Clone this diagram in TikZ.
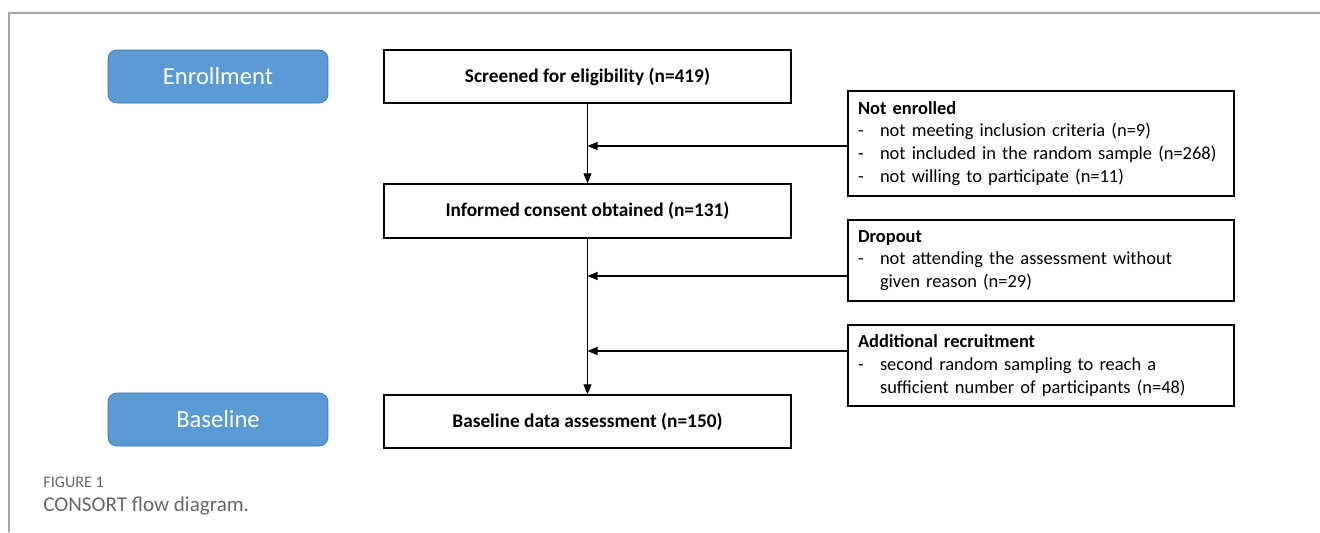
\documentclass[tikz,border=0pt]{standalone}
\usepackage{fontspec}
\setmainfont{Carlito}
\usepackage{xcolor}
\usetikzlibrary{arrows.meta,positioning}
\definecolor{phaseblue}{HTML}{5B9BD5}
\definecolor{phaseedge}{HTML}{41719C}
\newcommand{\dashitem}[1]{\makebox[0.44cm][l]{-}#1}
\newcommand{\dashcont}[1]{\hspace*{0.44cm}#1}

\begin{document}
\begin{tikzpicture}[
  x=0.02cm, y=-0.02cm,
  phase/.style={rounded corners=5pt, draw=phaseedge, fill=phaseblue, text=white,
                minimum width=4.4cm, minimum height=1.06cm,
                font=\fontsize{14}{16}\selectfont},
  flow/.style={draw=black, line width=0.8pt, minimum width=8.14cm, minimum height=1.06cm,
               font=\fontsize{11}{13}\selectfont\bfseries},
  side/.style={draw=black, line width=0.8pt, minimum width=7.72cm, text width=7.32cm,
               inner xsep=0.2cm, align=left, font=\fontsize{10.5}{13}\selectfont},
  arr/.style={-{Triangle[length=2mm,width=1.6mm]}, draw=black, line width=0.6pt},
  captext/.style={anchor=base west, inner sep=0pt, text=black!60}
]
\useasboundingbox (0,0) rectangle (1320,532);
% Frame
\draw[black!35, line width=0.6pt] (1320,13) -- (9,13) -- (9,532);

% Phases
\node[phase] (enroll) at (218,76.5) {Enrollment};
\node[phase] (base) at (218,419.5) {Baseline};

% Main flow
\node[flow] (screen) at (587.5,76.5) {Screened for eligibility (n=419)};
\node[flow, minimum height=1.08cm] (consent) at (587.5,211) {Informed consent obtained (n=131)};
\node[flow] (assess) at (587.5,421.5) {Baseline data assessment (n=150)};

% Side boxes
\node[side, minimum height=2.1cm] (notenr) at (1041,143.5)
  {\textbf{Not enrolled}\\
   \dashitem{not meeting inclusion criteria (n=9)}\\
   \dashitem{not included in the random sample (n=268)}\\
   \dashitem{not willing to participate (n=11)}};
\node[side, minimum height=1.62cm] (drop) at (1041,260.5)
  {\textbf{Dropout}\\
   \dashitem{not attending the assessment without}\\
   \dashcont{given reason (n=29)}};
\node[side, minimum height=1.62cm] (addrec) at (1041,365.5)
  {\textbf{Additional recruitment}\\
   \dashitem{second random sampling to reach a}\\
   \dashcont{sufficient number of participants (n=48)}};

% Edges
\draw[arr] (screen.south) -- (consent.north);
\draw[arr] (consent.south) -- (assess.north);
\draw[arr] ([yshift=-0.05cm]notenr.west) -- ([yshift=-0.05cm]notenr.west -| screen.south);
\draw[arr] ([yshift=-0.31cm]drop.west) -- ([yshift=-0.31cm]drop.west -| screen.south);
\draw[arr] ([yshift=0.29cm]addrec.west) -- ([yshift=0.29cm]addrec.west -| screen.south);

% Caption
\node[captext, font=\fontsize{9.2}{11}\selectfont] (fig) at (43,487) {FIGURE 1};
\node[captext, font=\fontsize{12}{14}\selectfont] (title) at (43,511) {CONSORT flow diagram.};
\end{tikzpicture}
\end{document}
